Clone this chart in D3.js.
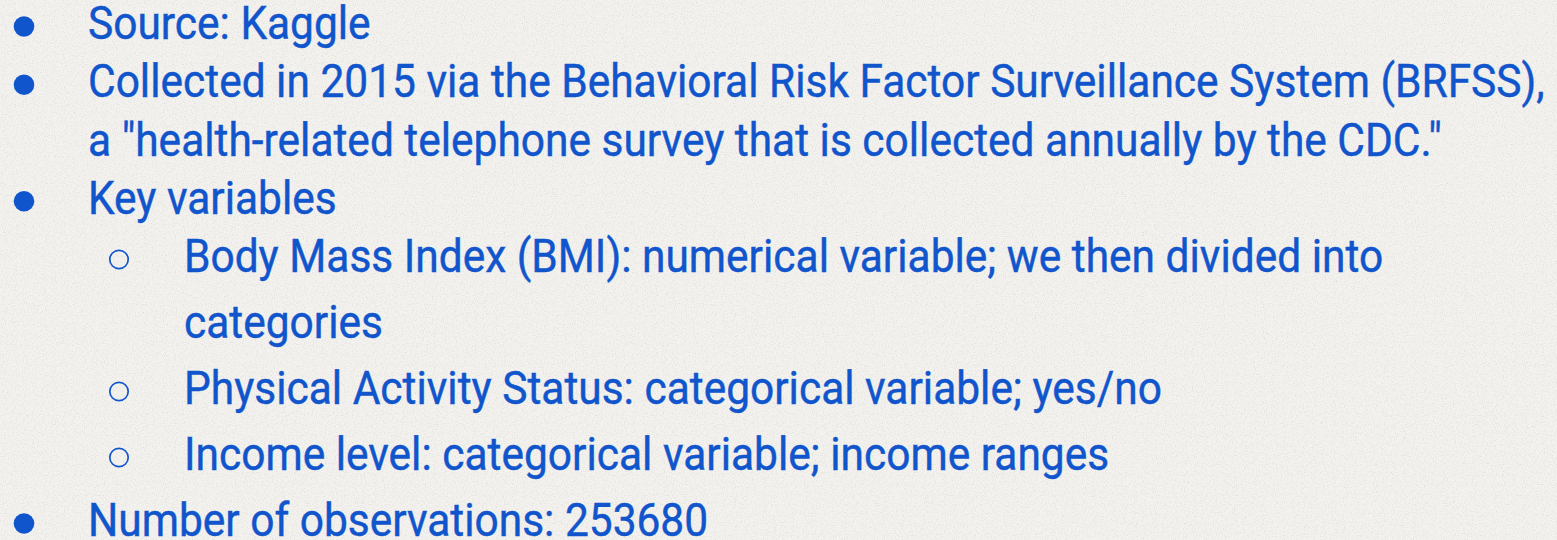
<!DOCTYPE html>
<html>
<head>
<meta charset="utf-8">
<script src="https://cdn.jsdelivr.net/npm/d3@7"></script>
<style>
  html, body { margin: 0; padding: 0; background: #f3f2ee; }
  svg { display: block; }
</style>
</head>
<body>
<div id="svganchor"></div>
<script>
let width = 1557;
let height = 540;

// slide lines, one entry per rendered line
let lineTexts = [
    "Source: Kaggle",
    "Collected in 2015 via the Behavioral Risk Factor Surveillance System (BRFSS),",
    "a \"health-related telephone survey that is collected annually by the CDC.\"",
    "Key variables",
    "Body Mass Index (BMI): numerical variable; we then divided into",
    "categories",
    "Physical Activity Status: categorical variable; yes/no",
    "Income level: categorical variable; income ranges",
    "Number of observations: 253680"
];
// list level of each line (1 = main bullet, 2 = sub bullet)
let lineLevels = [1, 1, 1, 1, 2, 2, 2, 2, 1];
// does the line start a new item (shows a bullet) or continue the previous one
let lineBullets = [true, true, false, true, true, false, true, true, true];

let blue = "#1155cc";
let fontSize = 47;

let svg = d3.select("#svganchor")
    .append("svg")
    .attr("width", width)
    .attr("height", height);

// faint paper texture
let defs = svg.append("defs");
let paper = defs.append("filter").attr("id", "paper")
    .attr("x", 0).attr("y", 0).attr("width", "100%").attr("height", "100%");
paper.append("feTurbulence")
    .attr("type", "fractalNoise")
    .attr("baseFrequency", 0.9)
    .attr("numOctaves", 2)
    .attr("seed", 4);
paper.append("feColorMatrix")
    .attr("values", "0 0 0 0 0.45  0 0 0 0 0.45  0 0 0 0 0.43  0 0 0 -2.2 1.15");

svg.append("rect")
    .attr("width", width).attr("height", height)
    .attr("fill", "#f3f2ee");
svg.append("rect")
    .attr("width", width).attr("height", height)
    .attr("filter", "url(#paper)")
    .attr("opacity", 0.35);

// baseline position by line index (wider spacing in the second half)
let yScale = d3.scaleLinear()
    .domain([0, 4, 8])
    .range([39, 272, 536]);

// indent by list level
let textX = d3.scaleOrdinal().domain([1, 2]).range([88, 184]);
let bulletX = d3.scaleOrdinal().domain([1, 2]).range([24, 119]);

let lines = lineTexts.map(function(t, i) {
    return { text: t, level: lineLevels[i], bullet: lineBullets[i], i: i };
});

let g = svg.append("g");

let texts = g.selectAll(".line")
    .data(lines)
    .enter()
    .append("text")
    .attr("class", "line")
    .attr("font-family", "Roboto, 'Noto Sans', sans-serif")
    .attr("font-size", fontSize)
    .attr("fill", blue)
    .attr("stroke", blue)
    .attr("stroke-width", 0.45)
    .text(function(d) { return d.text; });

// the slide font is a condensed face: squeeze so the longest line fits
let natural = texts.filter(function(d) { return d.i === 1; }).node().getComputedTextLength();
let squeeze = (1545 - textX(1)) / natural;

texts.attr("transform", function(d) {
    return "translate(" + textX(d.level) + "," + yScale(d.i) + ") scale(" + squeeze + ",1)";
});

// bullets
let withBullet = lines.filter(function(d) { return d.bullet; });

g.selectAll(".bullet")
    .data(withBullet)
    .enter()
    .append("circle")
    .attr("class", "bullet")
    .attr("cx", function(d) { return bulletX(d.level); })
    .attr("cy", function(d) { return yScale(d.i) - 12.5; })
    .attr("r", function(d) { return d.level === 1 ? 10.3 : 9.2; })
    .attr("fill", function(d) { return d.level === 1 ? blue : "none"; })
    .attr("stroke", function(d) { return d.level === 1 ? "none" : blue; })
    .attr("stroke-width", 1.7);
</script>
</body>
</html>
